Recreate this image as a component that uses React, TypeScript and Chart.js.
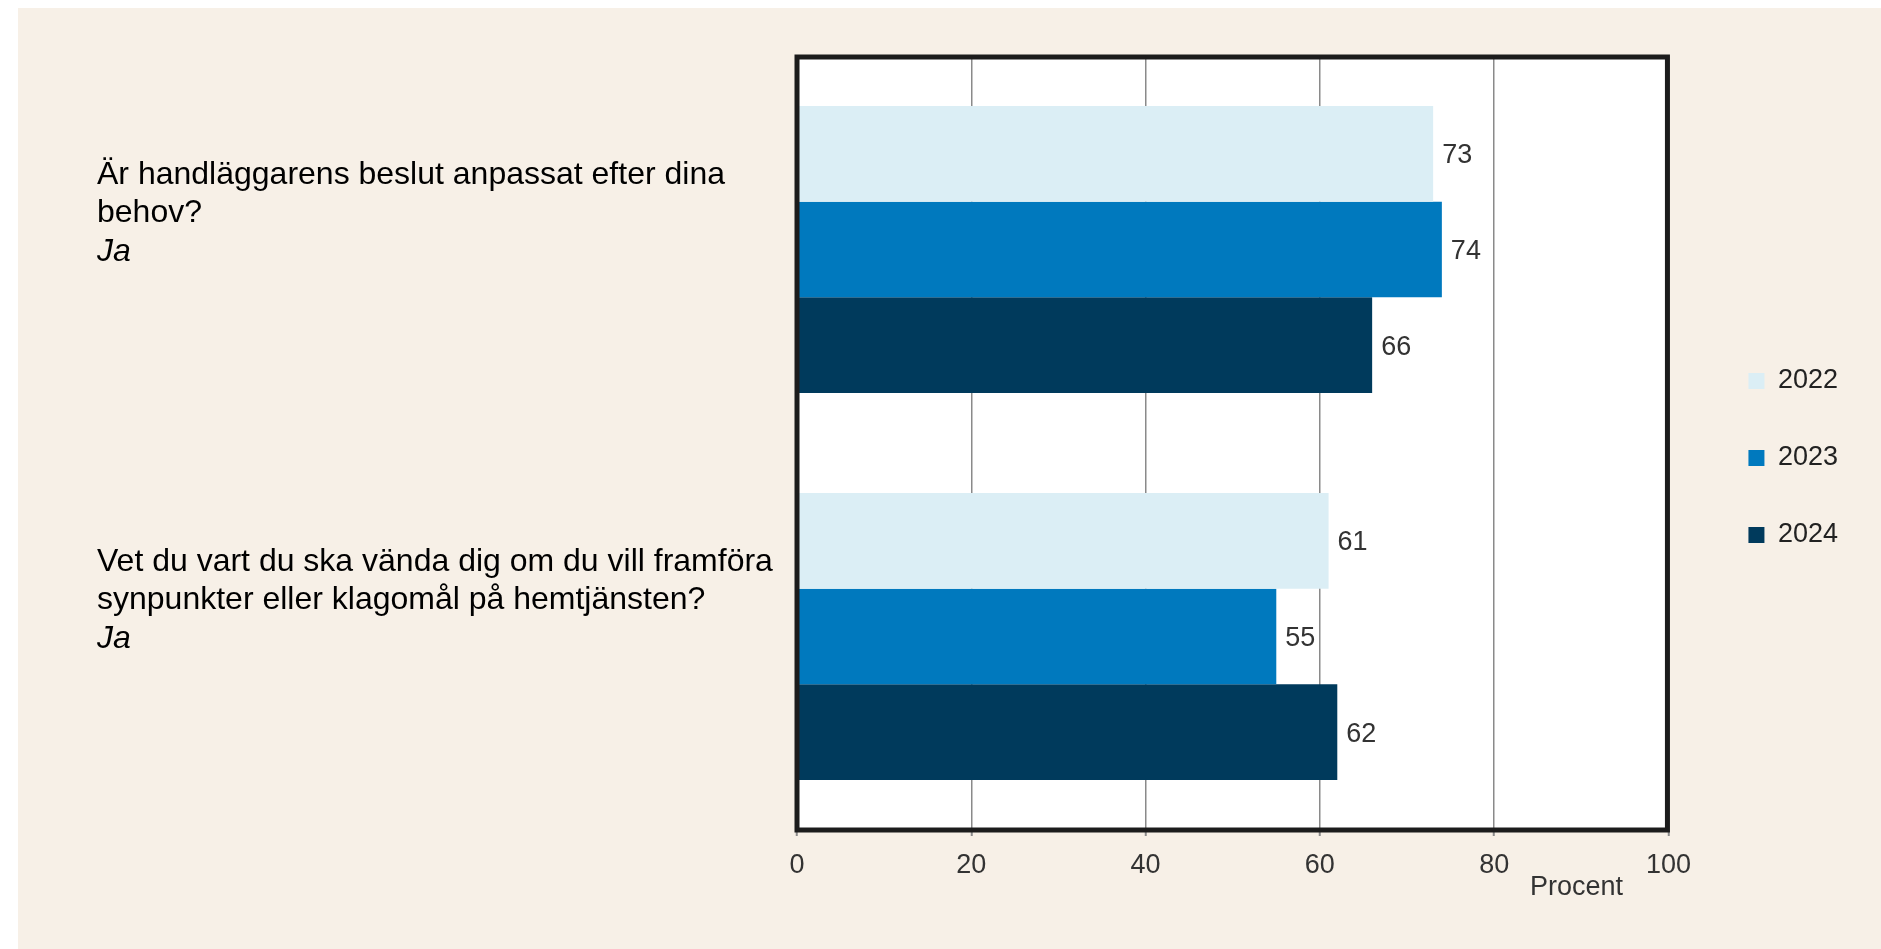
import React, { useEffect, useRef } from 'react';
import { Chart, registerables } from 'chart.js';

Chart.register(...registerables);

// ---- data ----
const questionLines: string[][] = [
  ['Är handläggarens beslut anpassat efter dina', 'behov?'],
  ['Vet du vart du ska vända dig om du vill framföra', 'synpunkter eller klagomål på hemtjänsten?'],
];
const answerLabels: string[] = ['Ja', 'Ja'];
const categories: string[] = questionLines.map((l) => l.join(' '));
const seriesNames: string[] = ['2022', '2023', '2024'];
const values2022: number[] = [73, 61];
const values2023: number[] = [74, 55];
const values2024: number[] = [66, 62];
const seriesColors: string[] = ['#dbeef5', '#0079be', '#003a5c'];
const xMin = 0;
const xMax = 100;
const xStep = 20;
const xAxisTitle = 'Procent';

const FONT = "'Liberation Sans', Arial, sans-serif";

const decorPlugin = {
  id: 'decor',
  beforeDraw(chart: any) {
    const { ctx, chartArea: a } = chart;
    ctx.save();
    ctx.fillStyle = '#ffffff';
    ctx.fillRect(a.left, a.top, a.right - a.left, a.bottom - a.top);
    ctx.restore();
  },
  afterDatasetsDraw(chart: any) {
    const { ctx } = chart;
    ctx.save();
    ctx.font = `27px ${FONT}`;
    ctx.fillStyle = '#333333';
    ctx.textAlign = 'left';
    ctx.textBaseline = 'middle';
    chart.data.datasets.forEach((ds: any, di: number) => {
      const meta = chart.getDatasetMeta(di);
      meta.data.forEach((bar: any, i: number) => {
        ctx.fillText(String(ds.data[i]), bar.x + 9, bar.y + 2);
      });
    });
    ctx.restore();
  },
  afterDraw(chart: any) {
    const { ctx, chartArea: a } = chart;
    const yScale = chart.scales.y;
    const xScale = chart.scales.x;
    ctx.save();
    // frame
    ctx.strokeStyle = '#1c1c1c';
    ctx.lineWidth = 5;
    ctx.strokeRect(a.left, a.top + 1, a.right - a.left - 1, a.bottom - a.top - 1);
    // question labels
    ctx.fillStyle = '#000000';
    ctx.textAlign = 'left';
    ctx.textBaseline = 'alphabetic';
    categories.forEach((_, i) => {
      const cy = yScale.getPixelForValue(i);
      const lines = questionLines[i];
      ctx.font = `32px ${FONT}`;
      lines.forEach((line, li) => {
        ctx.fillText(line, 79, cy - 66 + li * 38.5);
      });
      ctx.font = `italic 32px ${FONT}`;
      ctx.fillText(answerLabels[i], 79, cy - 66 + lines.length * 38.5);
    });
    // axis title
    ctx.font = `27px ${FONT}`;
    ctx.fillStyle = '#333333';
    ctx.textAlign = 'center';
    ctx.textBaseline = 'middle';
    ctx.fillText(xAxisTitle, xScale.getPixelForValue(xMax) - 92, a.bottom + 58);
    ctx.restore();
  },
};

export default function App() {
  const ref = useRef<HTMLCanvasElement | null>(null);

  useEffect(() => {
    if (!ref.current) return;
    const chart = new Chart(ref.current, {
      type: 'bar',
      data: {
        labels: categories,
        datasets: [
          { label: seriesNames[0], data: values2022, backgroundColor: seriesColors[0], xAxisID: 'x', yAxisID: 'y' },
          { label: seriesNames[1], data: values2023, backgroundColor: seriesColors[1], xAxisID: 'x', yAxisID: 'y' },
          { label: seriesNames[2], data: values2024, backgroundColor: seriesColors[2], xAxisID: 'x', yAxisID: 'y' },
        ],
      },
      options: {
        indexAxis: 'y',
        animation: false,
        responsive: false,
        devicePixelRatio: 1,
        datasets: { bar: { categoryPercentage: 0.742, barPercentage: 1.0 } },
        layout: { padding: { left: 0, top: 28, right: 33, bottom: 69 } },
        scales: {
          x: {
            type: 'linear',
            position: 'bottom',
            min: xMin,
            max: xMax,
            ticks: {
              stepSize: xStep,
              padding: 13,
              color: '#333333',
              font: { family: FONT, size: 27 },
            },
            grid: {
              color: '#8a8a8a',
              lineWidth: 1.5,
              tickLength: 6,
              tickColor: '#8a8a8a',
              tickWidth: 2,
            },
            border: { display: false },
            afterFit: (s: any) => { s.height = 50; },
          },
          topSpacer: {
            type: 'linear',
            axis: 'x',
            position: 'top',
            min: xMin,
            max: xMax,
            ticks: { display: false },
            grid: { display: false },
            border: { display: false },
            afterFit: (s: any) => { s.height = 20; },
          },
          y: {
            type: 'category',
            position: 'left',
            ticks: { display: false },
            grid: { display: false },
            border: { display: false },
            afterFit: (s: any) => { s.width = 779; },
          },
          spacer: {
            type: 'category',
            axis: 'y',
            position: 'right',
            ticks: { display: false },
            grid: { display: false },
            border: { display: false },
            afterFit: (s: any) => { s.width = 30; },
          },
        } as any,
        plugins: {
          legend: {
            position: 'right',
            labels: {
              boxWidth: 16,
              boxHeight: 16,
              padding: 50,
              color: '#222222',
              font: { family: FONT, size: 27 },
            },
          },
          tooltip: { enabled: false },
        },
      },
      plugins: [decorPlugin],
    });
    return () => chart.destroy();
  }, []);

  return (
    <div
      style={{
        position: 'absolute',
        left: 18,
        top: 8,
        width: 1863,
        height: 941,
        background: '#f7f0e7',
      }}
    >
      <canvas ref={ref} width={1863} height={941} style={{ display: 'block' }} />
    </div>
  );
}
